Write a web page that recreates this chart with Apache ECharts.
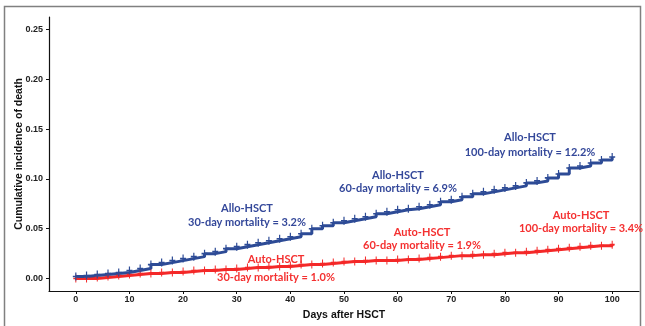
<!DOCTYPE html>
<html>
<head>
<meta charset="utf-8">
<script src="https://cdn.jsdelivr.net/npm/echarts@6/dist/echarts.min.js"></script>
<style>
  html, body { margin: 0; padding: 0; background: #fff; }
  #container { width: 645px; height: 326px; }
</style>
</head>
<body>
<div id="container"></div>
<script>
// days after HSCT (every 2 days)
const days = [0, 2, 4, 6, 8, 10, 12, 14, 16, 18, 20, 22, 24, 26, 28, 30, 32, 34, 36, 38, 40,
  42, 44, 46, 48, 50, 52, 54, 56, 58, 60, 62, 64, 66, 68, 70, 72, 74, 76, 78, 80,
  82, 84, 86, 88, 90, 92, 94, 96, 98, 100];

// cumulative incidence of death
const alloValues = [0.002, 0.003, 0.004, 0.005, 0.006, 0.008, 0.010, 0.014, 0.016, 0.018, 0.020,
  0.022, 0.025, 0.027, 0.030, 0.032, 0.034, 0.036, 0.038, 0.040, 0.042,
  0.045, 0.050, 0.053, 0.056, 0.058, 0.060, 0.062, 0.065, 0.067, 0.069,
  0.070, 0.072, 0.074, 0.077, 0.079, 0.082, 0.085, 0.087, 0.089, 0.091,
  0.093, 0.096, 0.098, 0.101, 0.105, 0.111, 0.113, 0.116, 0.119, 0.122];
const autoValues = [0.000, 0.000, 0.001, 0.002, 0.003, 0.004, 0.005, 0.005, 0.006, 0.006, 0.007,
  0.008, 0.008, 0.009, 0.009, 0.010, 0.011, 0.011, 0.012, 0.012, 0.013,
  0.014, 0.014, 0.015, 0.016, 0.017, 0.017, 0.018, 0.018, 0.018, 0.019,
  0.019, 0.020, 0.021, 0.022, 0.023, 0.023, 0.024, 0.024, 0.025, 0.026,
  0.026, 0.027, 0.028, 0.029, 0.030, 0.031, 0.032, 0.033, 0.033, 0.034];

const xTicks = [0, 10, 20, 30, 40, 50, 60, 70, 80, 90, 100];
const yTicks = [0, 0.05, 0.10, 0.15, 0.20, 0.25];

const alloNotes = [
  ['Allo-HSCT', '30-day mortality = 3.2%'],
  ['Allo-HSCT', '60-day mortality = 6.9%'],
  ['Allo-HSCT', '100-day mortality = 12.2%']
];
const autoNotes = [
  ['Auto-HSCT', '30-day mortality = 1.0%'],
  ['Auto-HSCT', '60-day mortality = 1.9%'],
  ['Auto-HSCT', '100-day mortality = 3.4%']
];

const BLUE = '#2d4b96';
const RED = '#f42828';
const PLUS = 'path://M4,0H6V4H10V6H6V10H4V6H0V4H4Z';

let dom = document.getElementById('container');
let myChart = echarts.init(dom);

function pairs(vals) {
  return days.map((d, i) => [d, vals[i]]);
}

// annotation placement in pixels: [centre x, first line y, second line y]
const alloPos = [[247, 208, 222], [398, 175, 188], [530, 137, 152]];
const autoPos = [[276, 259.5, 277], [422, 232, 245], [581, 215, 228]];

function noteGraphics(notes, pos, color) {
  let out = [];
  notes.forEach((n, i) => {
    [0, 1].forEach(k => {
      out.push({
        type: 'text',
        x: pos[i][0],
        y: pos[i][k + 1],
        silent: true,
        style: {
          text: n[k],
          fill: color,
          font: 'bold 11px Lato',
          align: 'center',
          verticalAlign: 'middle'
        }
      });
    });
  });
  return out;
}

let option = {
  animation: false,
  grid: { left: 49, right: 6, top: 17, bottom: 32 },
  xAxis: {
    type: 'value',
    min: -5,
    max: 105,
    interval: 5,
    name: 'Days after HSCT',
    nameLocation: 'middle',
    nameGap: 19,
    nameMoveOverlap: false,
    nameTextStyle: { fontFamily: 'Liberation Sans', fontWeight: 'bold', fontSize: 10.5, color: '#111' },
    axisLine: { onZero: false, lineStyle: { color: '#111', width: 1.2 } },
    axisTick: {
      length: 3,
      lineStyle: { color: '#111' },
      customValues: xTicks
    },
    axisLabel: {
      margin: 4,
      fontFamily: 'Liberation Sans',
      fontWeight: 'bold',
      fontSize: 9,
      color: '#222',
      customValues: xTicks
    },
    splitLine: { show: false }
  },
  yAxis: {
    type: 'value',
    min: -0.0125,
    max: 0.2625,
    name: 'Cumulative incidence of death',
    nameLocation: 'middle',
    nameGap: 24,
    nameMoveOverlap: false,
    nameTextStyle: { fontFamily: 'Liberation Sans', fontWeight: 'bold', fontSize: 10.5, color: '#111' },
    axisLine: { show: true, onZero: false, lineStyle: { color: '#111', width: 1.2 } },
    axisTick: {
      show: true,
      length: 3,
      lineStyle: { color: '#111' },
      customValues: yTicks
    },
    axisLabel: {
      margin: 6,
      fontFamily: 'Liberation Sans',
      fontWeight: 'bold',
      fontSize: 9,
      color: '#222',
      customValues: yTicks,
      formatter: v => v.toFixed(2)
    },
    splitLine: { show: false }
  },
  series: [
    {
      name: 'Auto-HSCT',
      type: 'line',
      step: 'end',
      data: pairs(autoValues),
      lineStyle: { color: RED, width: 3 },
      itemStyle: { color: RED },
      symbol: PLUS,
      symbolSize: [5, 8],
      showSymbol: true
    },
    {
      name: 'Allo-HSCT',
      type: 'line',
      step: 'end',
      data: pairs(alloValues),
      lineStyle: { color: BLUE, width: 3 },
      itemStyle: { color: BLUE },
      symbol: PLUS,
      symbolSize: [6, 8],
      showSymbol: true
    }
  ],
  graphic: [
    {
      type: 'rect',
      silent: true,
      shape: { x: 4.5, y: 6.5, width: 636, height: 330 },
      style: { fill: 'none', stroke: '#808080', lineWidth: 1.5 }
    }
  ].concat(noteGraphics(alloNotes, alloPos, '#34489a'), noteGraphics(autoNotes, autoPos, '#f43030'))
};
myChart.setOption(option);
</script>
</body>
</html>
